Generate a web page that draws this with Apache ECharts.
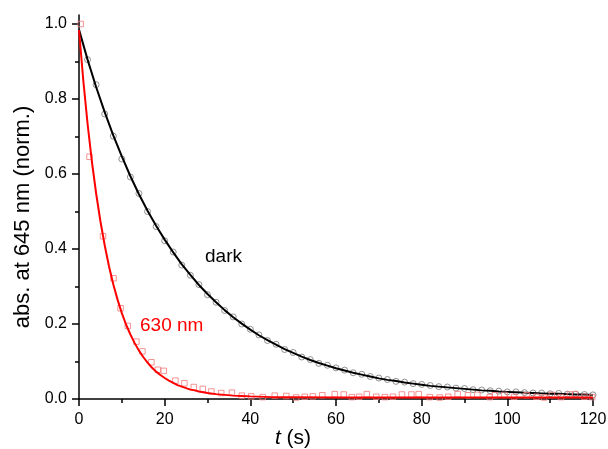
<!DOCTYPE html>
<html>
<head>
<meta charset="utf-8">
<script src="https://cdn.jsdelivr.net/npm/echarts@6/dist/echarts.min.js"></script>
<style>
html,body{margin:0;padding:0;background:#fff;}
#chart{width:608px;height:449px;}
</style>
</head>
<body>
<div id="chart"></div>
<script>
// ---- data ----
const yTicks = [0, 0.2, 0.4, 0.6, 0.8, 1.0];
const yMinorTicks = [0.1, 0.3, 0.5, 0.7, 0.9];

// dark: measured points (circles)
const darkT = [2,4,6,8,10,12,14,16,18,20,22,24,26,28,30,32,34,36,38,40,42,44,46,48,50,52,54,56,58,60,62,64,66,68,70,72,74,76,78,80,82,84,86,88,90,92,94,96,98,100,102,104,106,108,110,112,114,116,118,120];
const darkY = [0.905,0.838,0.760,0.701,0.640,0.592,0.548,0.500,0.460,0.422,0.392,0.357,0.330,0.305,0.278,0.258,0.236,0.219,0.200,0.186,0.171,0.156,0.146,0.132,0.124,0.112,0.105,0.095,0.090,0.083,0.077,0.070,0.066,0.060,0.056,0.052,0.047,0.045,0.041,0.039,0.036,0.033,0.032,0.029,0.028,0.025,0.024,0.022,0.021,0.019,0.019,0.017,0.016,0.016,0.014,0.015,0.013,0.013,0.012,0.011];

// dark: fitted curve
const darkFitT = [0,2,4,6,8,10,12,14,16,18,20,22,24,26,28,30,32,34,36,38,40,42,44,46,48,50,52,54,56,58,60,62,64,66,68,70,72,74,76,78,80,82,84,86,88,90,92,94,96,98,100,102,104,106,108,110,112,114,116,118,120];
const darkFitY = [0.985,0.905,0.832,0.765,0.703,0.647,0.594,0.546,0.502,0.462,0.425,0.391,0.359,0.331,0.304,0.280,0.258,0.237,0.218,0.201,0.185,0.170,0.157,0.145,0.133,0.123,0.113,0.104,0.096,0.089,0.082,0.076,0.070,0.065,0.060,0.055,0.051,0.048,0.044,0.041,0.038,0.035,0.033,0.031,0.029,0.027,0.025,0.023,0.022,0.020,0.019,0.018,0.017,0.016,0.015,0.014,0.014,0.013,0.012,0.012,0.011];

// 630 nm: measured points (squares)
const redT = [0.4,2.45,5.6,8.05,9.7,11.4,13.4,14.8,16.9,18.4,19.8,22.5,24.6,26.8,28.9,30.9,33.2,35.7,38.0,40.2,42.9,45.7,48.4,50.7,52.7,54.6,56.8,59.7,61.8,63.7,65.4,67.2,69.4,71.4,73.3,75.4,77.6,79.3,81.9,84.2,86.2,88.4,90.8,93.0,95.9,97.1,99.3,101.6,104.5,106.8,108.6,110.4,112.5,114.6,115.8,118.0,119.8];
const redY = [1.0,0.646,0.434,0.322,0.242,0.195,0.153,0.127,0.098,0.078,0.075,0.049,0.042,0.032,0.027,0.020,0.016,0.017,0.009,0.007,0.005,0.009,0.008,0.004,0.006,0.007,0.010,0.013,0.012,0.005,0.006,0.013,0.006,0.005,0.006,0.012,0.012,0.013,0.005,0.004,0.006,0.013,0.010,0.011,0.005,0.010,0.011,0.006,0.010,0.006,0.004,0.011,0.005,0.012,0.013,0.006,0.005];

// 630 nm: fitted curve
const redFitT = [0,1,2,3,4,5,6,7,8,9,10,11,12,13,14,15,16,17,18,19,20,21,22,23,24,25,26,27,28,29,30,32,34,36,38,40,45,50,60,70,80,90,100,110,120];
const redFitY = [0.984,0.850,0.734,0.634,0.548,0.474,0.410,0.354,0.306,0.265,0.229,0.198,0.172,0.149,0.129,0.112,0.097,0.084,0.073,0.064,0.056,0.049,0.043,0.037,0.033,0.029,0.025,0.023,0.020,0.018,0.016,0.013,0.011,0.009,0.008,0.007,0.005,0.005,0.004,0.004,0.004,0.004,0.004,0.004,0.004];

const zip = (a, b) => a.map((v, i) => [v, b[i]]);
const FONT = '"Liberation Sans", Arial, sans-serif';

const chart = echarts.init(document.getElementById('chart'), null, {renderer: 'canvas'});
chart.setOption({
  backgroundColor: '#fff',
  animation: false,
  grid: {left: 79, right: 15, top: 15, bottom: 50, containLabel: false, outerBoundsMode: 'none'},
  xAxis: {
    type: 'value', min: 0, max: 120, interval: 20,
    axisLine: {show: true, lineStyle: {color: '#000', width: 1.5}},
    axisTick: {show: true, inside: false, length: 7, lineStyle: {color: '#000', width: 1.5}},
    minorTick: {show: true, splitNumber: 2, length: 4, lineStyle: {color: '#000', width: 1.5}},
    splitLine: {show: false},
    axisLabel: {color: '#000', fontSize: 16, fontFamily: FONT, margin: 13},
    name: '{i|t} (s)',
    nameLocation: 'middle',
    nameGap: 29,
    nameMoveOverlap: false,
    nameTextStyle: {
      color: '#000', fontSize: 21, fontFamily: FONT, padding: [0, 86, 0, 0],
      rich: {i: {fontStyle: 'italic', fontSize: 21, fontFamily: FONT, color: '#000'}}
    }
  },
  yAxis: [{
    type: 'value', min: 0, max: 1.024,
    axisLine: {show: true, lineStyle: {color: '#000', width: 1.5}},
    axisTick: {show: true, inside: false, length: 7, customValues: yTicks, lineStyle: {color: '#000', width: 1.5}},
    splitLine: {show: false},
    axisLabel: {color: '#000', fontSize: 16, fontFamily: FONT, margin: 12, customValues: yTicks,
      formatter: v => v.toFixed(1)},
    name: 'abs. at 645 nm (norm.)',
    nameLocation: 'middle',
    nameGap: 45,
    nameMoveOverlap: false,
    nameTextStyle: {color: '#000', fontSize: 22, fontFamily: FONT, padding: [0, 20, 0, 0]}
  }, {
    type: 'value', min: 0, max: 1.024, position: 'left', offset: 0,
    axisLine: {show: false},
    axisTick: {show: true, inside: false, length: 4, customValues: yMinorTicks, lineStyle: {color: '#000', width: 1.5}},
    axisLabel: {show: false},
    splitLine: {show: false}
  }],
  series: [
    {
      type: 'scatter', data: zip(darkT, darkY), symbol: 'circle', symbolSize: 6,
      itemStyle: {color: 'rgba(0,0,0,0)', borderColor: '#777', borderWidth: 1}, z: 2
    },
    {
      type: 'line', data: zip(darkFitT, darkFitY), showSymbol: false, smooth: false,
      lineStyle: {color: '#000', width: 2}, z: 3
    },
    {
      type: 'scatter', data: zip(redT, redY), symbol: 'rect', symbolSize: 5.5,
      itemStyle: {color: 'rgba(0,0,0,0)', borderColor: '#f27a7a', borderWidth: 1}, z: 4
    },
    {
      type: 'line', data: zip(redFitT, redFitY), showSymbol: false, smooth: false,
      lineStyle: {color: '#ff0000', width: 2}, z: 5
    }
  ],
  graphic: [
    {type: 'text', left: 205, top: 247, style: {text: 'dark', fill: '#000', font: '19px ' + FONT}},
    {type: 'text', left: 140, top: 316, style: {text: '630 nm', fill: '#ff0000', font: '19px ' + FONT}}
  ]
});
</script>
</body>
</html>
